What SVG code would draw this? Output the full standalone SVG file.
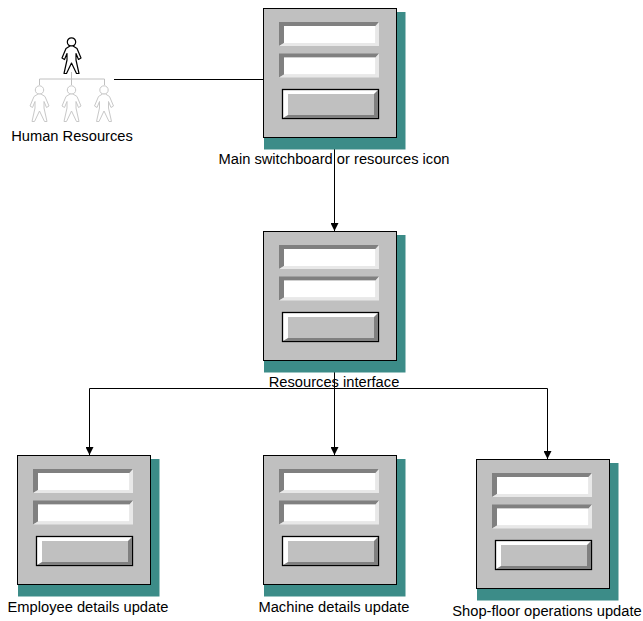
<svg xmlns="http://www.w3.org/2000/svg" xmlns:xlink="http://www.w3.org/1999/xlink" width="643" height="621" viewBox="0 0 643 621">
<style>
text{font-family:"Liberation Sans",Arial,sans-serif;font-size:14.7px;fill:#000;text-anchor:middle}
.line{fill:none;stroke:#000;stroke-width:1}
.black{fill:#fff;stroke:#000;stroke-width:1.2;stroke-linejoin:round}
.grey{fill:#fff;stroke:#c8c8c8;stroke-width:1;stroke-linejoin:round}
.org{fill:none;stroke:#c0c0c0;stroke-width:1}
</style>
<defs>
<marker id="arrow" markerUnits="userSpaceOnUse" markerWidth="9" markerHeight="8" refX="8" refY="4" orient="auto">
<path d="M0 0L8 4L0 8Z" fill="#000"/>
</marker>
<g id="person">
<circle cx="0" cy="0" r="4.200"/>
<path d="M-1.500 4L-5.500 6.500L-9.500 16L-7 17.500L-4.500 11.500L-4.500 18L-7.500 31.500H-5L0 21L5 31.500H7.500L4.500 18L4.500 11.500L7 17.500L9.500 16L5.500 6.500L1.500 4Z"/>
</g>
<g id="field">
<path d="M16 14H116L112.500 18H21V35L16 38Z" fill="#808080"/>
<path d="M116 14V38H16L21 35H112.500V18Z" fill="#e8e8e8"/>
<rect x="21" y="18" width="91.500" height="17" fill="#fff"/>
</g>
<g id="form">
<rect x="1" y="4" width="141.500" height="137.500" fill="#3c8c88"/>
<rect x="0.500" y="0.500" width="133" height="129" fill="#c0c0c0" stroke="#000"/>
<use href="#field" xlink:href="#field"/>
<use href="#field" xlink:href="#field" y="31.500"/>
<rect x="19.500" y="81.500" width="96" height="29" fill="#fff" stroke="#000" stroke-width="1.300"/>
<path d="M115 82V110H20L25 107H111V86Z" fill="#808080"/>
<rect x="25" y="86" width="86" height="21" fill="#c0c0c0"/>
</g>
</defs>
<g id="connectors">
<path class="line" d="M114 79.500H263"/>
<path class="line" d="M334.500 137V231" marker-end="url(#arrow)"/>
<path class="line" d="M334.500 360V455" marker-end="url(#arrow)"/>
<path class="line" d="M334.500 388.500H89.500V455" marker-end="url(#arrow)"/>
<path class="line" d="M334.500 388.500H547.500V459" marker-end="url(#arrow)"/>
</g>
<g id="human-resources">
<path class="org" d="M39.500 85V79H104.500V85M71.500 72V85"/>
<use href="#person" xlink:href="#person" class="black" x="71.500" y="42"/>
<use href="#person" xlink:href="#person" class="grey" x="39.500" y="90"/>
<use href="#person" xlink:href="#person" class="grey" x="71.500" y="90"/>
<use href="#person" xlink:href="#person" class="grey" x="104" y="90"/>
<text x="72" y="141">Human Resources</text>
</g>
<g id="main-switchboard">
<use href="#form" xlink:href="#form" x="263" y="8"/>
<text x="334" y="164">Main switchboard or resources icon</text>
</g>
<g id="resources-interface">
<use href="#form" xlink:href="#form" x="263" y="231"/>
<text x="334" y="387">Resources interface</text>
</g>
<g id="employee-details">
<use href="#form" xlink:href="#form" x="17" y="455"/>
<text x="88" y="612">Employee details update</text>
</g>
<g id="machine-details">
<use href="#form" xlink:href="#form" x="263" y="455"/>
<text x="334" y="612">Machine details update</text>
</g>
<g id="shop-floor">
<use href="#form" xlink:href="#form" x="476" y="459"/>
<text x="547" y="616">Shop-floor operations update</text>
</g>
</svg>
